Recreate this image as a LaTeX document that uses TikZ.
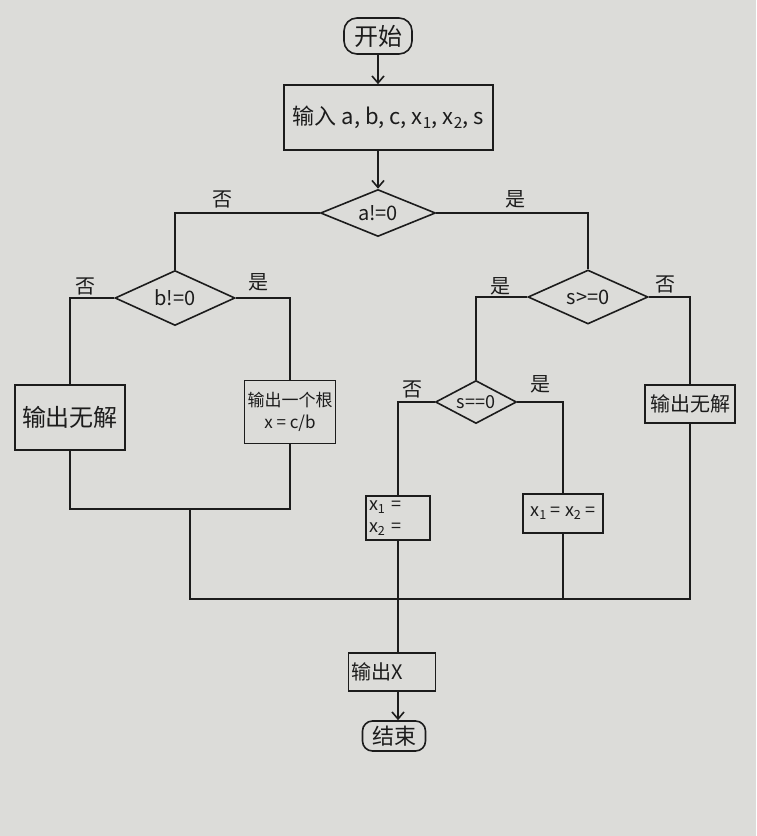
\documentclass[tikz,border=0pt]{standalone}
\usepackage{fontspec}
\setmainfont{Noto Sans CJK SC}
\usetikzlibrary{shapes.geometric,arrows.meta}
\definecolor{paper}{RGB}{220,220,217}
\definecolor{ink}{RGB}{28,28,28}
\begin{document}
\begin{tikzpicture}[x=1pt,y=-1pt,
  box/.style={draw=ink, line width=1.6pt, rectangle, inner sep=3pt, text=ink},
  term/.style={box, rounded corners=13pt},
  dec/.style={diamond, draw=ink, line width=1.6pt, aspect=2.5, inner sep=0pt, text=ink},
  lab/.style={text=ink, font=\fontsize{20}{20}\selectfont, inner sep=0pt},
  flow/.style={draw=ink, line width=1.6pt},
  arr/.style={flow, -{Straight Barb[length=7pt,width=12pt]}},
  f24/.style={font=\fontsize{24}{28}\selectfont},
  f22/.style={font=\fontsize{22}{26}\selectfont},
  f20/.style={font=\fontsize{20}{24}\selectfont},
  f18/.style={font=\fontsize{18}{22}\selectfont}
]
\fill[paper] (0,0) rectangle (756,836);

% nodes
\node[term, f24, minimum width=68, minimum height=36] (start) at (378,36) {开始};
\node[box, f22, minimum width=209, minimum height=65] (input) at (388.5,117.5)
  {输入 a, b, c, x\textsubscript{1}, x\textsubscript{2}, s};
\node[dec, f20, minimum width=115, minimum height=47] (d1) at (378,213) {a!=0};
\node[dec, f20, minimum width=120, minimum height=55] (d2) at (175,298) {b!=0};
\node[dec, f20, minimum width=120, minimum height=54] (d3) at (588,297) {s>=0};
\node[dec, f18, minimum width=81, minimum height=43] (d4) at (476,402) {s==0};

\node[box, f24, minimum width=110, minimum height=65] (b1) at (70,417.5) {输出无解};
\node[box, font=\fontsize{17}{22}\selectfont, align=center, minimum width=88, minimum height=63] (b2) at (290,412)
  {输出一个根\\x = c/b};
\node[box, f18, align=left, text width=58, minimum height=44] (b3) at (398,518)
  {x\textsubscript{1} =\\x\textsubscript{2} =};
\node[box, f18, minimum width=80, minimum height=39] (b4) at (563,513.5)
  {x\textsubscript{1} = x\textsubscript{2} =};
\node[box, f20, minimum width=90, minimum height=38] (b5) at (690,404) {输出无解};
\node[box, f20, align=left, text width=81, minimum height=38] (b6) at (392,672) {输出X};
\node[term, f22, minimum width=63, minimum height=30, rounded corners=10pt] (stop) at (394,736) {结束};

% junctions
\coordinate (j1) at (190,509);
\coordinate (jl) at (190,599);
\coordinate (jr) at (690,599);

% connectors
\draw[arr] (start.south) -- (start.south |- input.north);
\draw[arr] (input.south -| d1.north) -- (d1.north);
\draw[flow] (d1.west) -| (d2.north);
\draw[flow] (d1.east) -| (d3.north);
\draw[flow] (d2.west) -| (b1.north);
\draw[flow] (d2.east) -| (b2.north);
\draw[flow] (d3.west) -| (d4.north);
\draw[flow] (d3.east) -| (b5.north);
\draw[flow] (d4.west) -| (b3.north);
\draw[flow] (d4.east) -| (b4.north);
\draw[flow] (b1.south) |- (j1) -| (b2.south);
\draw[flow] (j1) -- (jl) -- (jr) -- (b5.south);
\draw[flow] (b4.south) -- (b4.south |- jr);
\draw[flow] (b3.south) -- (b3.south |- b6.north);
\draw[arr] (b3.south |- b6.south) -- (b3.south |- stop.north);

% labels
\node[lab] at (222,199) {否};
\node[lab] at (515,199) {是};
\node[lab] at (85,286) {否};
\node[lab] at (258,282) {是};
\node[lab] at (500,286) {是};
\node[lab] at (665,284) {否};
\node[lab] at (412,389) {否};
\node[lab] at (540,384) {是};
\end{tikzpicture}
\end{document}
